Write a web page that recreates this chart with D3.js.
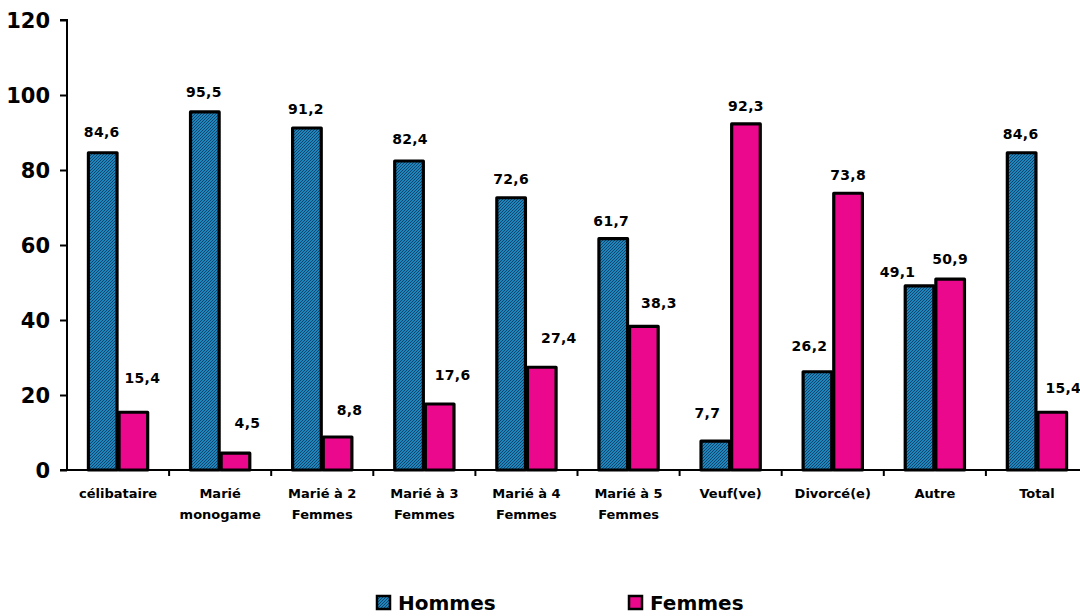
<!DOCTYPE html>
<html>
<head>
<meta charset="utf-8">
<script src="https://cdn.jsdelivr.net/npm/d3@7"></script>
<style>
  html, body { margin: 0; padding: 0; background: #fff; }
  svg { display: block; }
  text { font-family: "DejaVu Sans", Verdana, sans-serif; font-weight: bold; fill: #000; }
</style>
</head>
<body>
<svg id="chart" width="1080" height="616"></svg>
<script>
// ---- data ----
const categories = [
  ["célibataire"],
  ["Marié", "monogame"],
  ["Marié à 2", "Femmes"],
  ["Marié à 3", "Femmes"],
  ["Marié à 4", "Femmes"],
  ["Marié à 5", "Femmes"],
  ["Veuf(ve)"],
  ["Divorcé(e)"],
  ["Autre"],
  ["Total"]
];
const seriesNames = ["Hommes", "Femmes"];
const hommes = [84.6, 95.5, 91.2, 82.4, 72.6, 61.7, 7.7, 26.2, 49.1, 84.6];
const femmes = [15.4, 4.5, 8.8, 17.6, 27.4, 38.3, 92.3, 73.8, 50.9, 15.4];
const yTicks = [0, 20, 40, 60, 80, 100, 120];

// label placement tweaks (relative to bar top / bar centre), as in the original
const hommesLabelRise = [21, 20, 19, 22, 19, 18, 28, 26, 14, 19];
const hommesLabelShift = [-1, -1, -1, 1, 0, -2, -8, -8, -22, -1];
const femmesLabelRise = [34, 30, 27, 29, 29, 23, 18, 18, 20, 24];
const femmesLabelShift = [9, 12, 12, 13, 17, 15, 0, 0, 0, 11];

const colors = { Hommes: "#1f86bb", Femmes: "#ec088c" };

const svg = d3.select("#chart");
const margin = { left: 67, right: 2, top: 20, bottom: 146 };
const W = 1080, H = 616;
const plotBottom = H - margin.bottom; // 470
const plotRight = W - margin.right;

// hatch pattern for Hommes
const defs = svg.append("defs");
const pat = defs.append("pattern")
  .attr("id", "hatch")
  .attr("patternUnits", "userSpaceOnUse")
  .attr("width", 3).attr("height", 3);
pat.append("rect").attr("width", 3).attr("height", 3).attr("fill", colors.Hommes);
pat.append("path").attr("d", "M-1,1 L1,-1 M0,3 L3,0 M2,4 L4,2")
  .attr("stroke", "#0d3a63").attr("stroke-width", 0.9);

const x0 = d3.scaleBand()
  .domain(d3.range(categories.length))
  .range([margin.left, plotRight + 10])
  .paddingInner(0.4)
  .paddingOuter(0.2);
const x1 = d3.scaleBand()
  .domain(seriesNames)
  .range([0, x0.bandwidth()]);
const y = d3.scaleLinear().domain([0, 120]).range([plotBottom, margin.top]);

const stepW = x0.step();

// y axis
const yAxis = svg.append("g").attr("transform", `translate(${margin.left},0)`)
  .call(d3.axisLeft(y).tickValues(yTicks).tickSize(7).tickPadding(10).tickFormat(d3.format("d")));
yAxis.select(".domain").attr("stroke", "#000").attr("stroke-width", 2).attr("d", `M-7,${y(120)}H0V${y(0)}`);
yAxis.selectAll(".tick line").attr("stroke", "#000").attr("stroke-width", 2);
yAxis.selectAll(".tick text").style("font-size", "21px").style("font-family", "'DejaVu Sans', Verdana, sans-serif").style("font-weight", "bold").attr("fill", "#000").attr("dy", "0.36em");

// x axis line & ticks between categories
const xAxisG = svg.append("g");
xAxisG.append("line")
  .attr("x1", margin.left - 7).attr("x2", margin.left + stepW * categories.length)
  .attr("y1", plotBottom).attr("y2", plotBottom)
  .attr("stroke", "#000").attr("stroke-width", 2);
xAxisG.selectAll("line.tick").data(d3.range(1, categories.length + 1)).enter().append("line")
  .attr("class", "tick")
  .attr("x1", d => margin.left + d * stepW).attr("x2", d => margin.left + d * stepW)
  .attr("y1", plotBottom).attr("y2", plotBottom + 6)
  .attr("stroke", "#000").attr("stroke-width", 2);

// category labels
const catG = svg.append("g");
categories.forEach((lines, i) => {
  const t = catG.append("text")
    .attr("x", x0(i) + x0.bandwidth() / 2)
    .attr("y", plotBottom + 28)
    .attr("text-anchor", "middle")
    .style("font-size", "13px");
  lines.forEach((ln, j) => {
    t.append("tspan").attr("x", x0(i) + x0.bandwidth() / 2).attr("dy", j === 0 ? 0 : 21).text(ln);
  });
});

// bars
const seriesData = [
  { name: "Hommes", values: hommes, fill: "url(#hatch)", rise: hommesLabelRise, shift: hommesLabelShift },
  { name: "Femmes", values: femmes, fill: colors.Femmes, rise: femmesLabelRise, shift: femmesLabelShift }
];
const fmt = v => d3.format(".1f")(v).replace(".", ",");

seriesData.forEach(s => {
  const g = svg.append("g");
  g.selectAll("rect").data(s.values).enter().append("rect")
    .attr("x", (d, i) => x0(i) + x1(s.name) + 1)
    .attr("y", d => y(d))
    .attr("width", x1.bandwidth() - 2)
    .attr("height", d => y(0) - y(d))
    .attr("fill", s.fill)
    .attr("stroke", "#000")
    .attr("stroke-width", 3.2)
    .attr("stroke-linejoin", "round");
  g.selectAll("text").data(s.values).enter().append("text")
    .attr("x", (d, i) => x0(i) + x1(s.name) + x1.bandwidth() / 2 + s.shift[i])
    .attr("y", (d, i) => y(d) - s.rise[i])
    .attr("dy", "0.36em")
    .attr("text-anchor", "middle")
    .style("font-size", "14px")
    .style("letter-spacing", "0.3px")
    .text(d => fmt(d));
});

// legend
const legend = svg.append("g");
const legendPos = [376, 628];
seriesData.forEach((s, i) => {
  const lg = legend.append("g").attr("transform", `translate(${legendPos[i]},595)`);
  lg.append("rect").attr("x", 1).attr("y", 1).attr("width", 13).attr("height", 13)
    .attr("fill", s.fill).attr("stroke", "#000").attr("stroke-width", 2.5);
  lg.append("text").attr("x", 22).attr("y", 7.5).attr("dy", "0.36em")
    .style("font-size", "20px").text(s.name);
});
</script>
</body>
</html>
